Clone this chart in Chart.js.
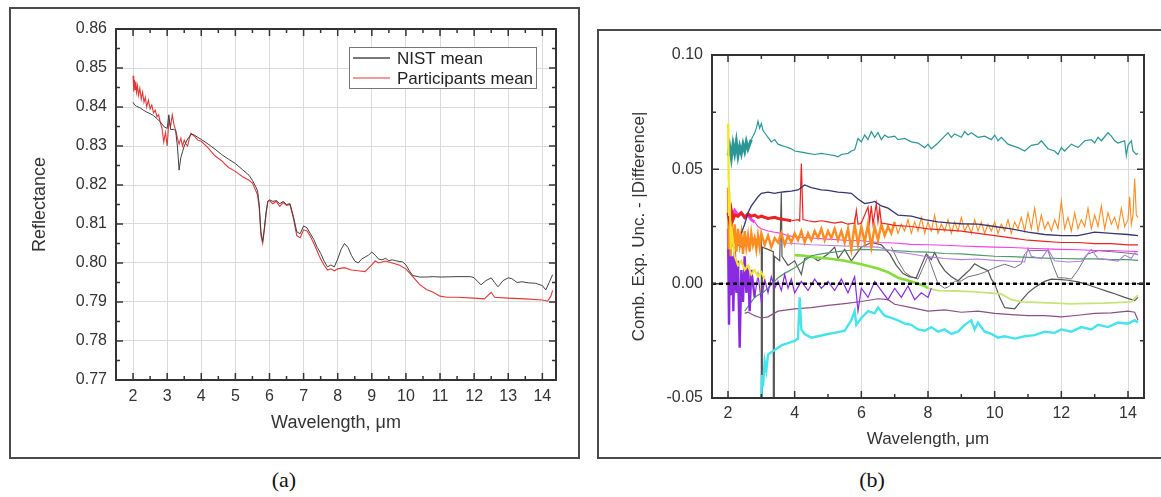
<!DOCTYPE html>
<html>
<head>
<meta charset="utf-8">
<script src="https://cdn.jsdelivr.net/npm/chart.js@4.4.1/dist/chart.umd.min.js"></script>
<style>
body { margin: 0; background: #fff; width: 1161px; height: 497px; overflow: hidden; position: relative; }
.frame { position: absolute; box-sizing: border-box; border: 2px solid #4a4a4a; }
#frameA { left: 9px; top: 7px; width: 571px; height: 452px; }
#frameB { left: 597px; top: 29px; width: 600px; height: 430px; }
canvas { position: absolute; }
#chartA { left: 0; top: 0; }
#chartB { left: 580px; top: 0; }
.cap { position: absolute; top: 467px; width: 60px; text-align: center; font: 22px "Liberation Serif", serif; color: #111; }
</style>
</head>
<body>
<div class="frame" id="frameA"></div>
<div class="frame" id="frameB"></div>
<canvas id="chartA" width="580" height="460"></canvas>
<canvas id="chartB" width="581" height="460"></canvas>
<div class="cap" style="left:254px">(a)</div>
<div class="cap" style="left:842px">(b)</div>
<script>
// ---- (a) reflectance, [wavelength, value]
const nistMean = [[2.0,0.8412],[2.05,0.8405],[2.1,0.8402],[2.2,0.8398],[2.3,0.8392],[2.4,0.8387],[2.5,0.8383],[2.6,0.8378],[2.7,0.8370],[2.8,0.8362],[2.9,0.8350],[3.0,0.8345],[3.05,0.8380],[3.1,0.8342],[3.2,0.8343],[3.25,0.8338],[3.3,0.8300],[3.35,0.8238],[3.4,0.8270],[3.45,0.8285],[3.5,0.8300],[3.6,0.8318],[3.7,0.8330],[3.8,0.8328],[3.9,0.8322],[4.0,0.8317],[4.2,0.8305],[4.4,0.8292],[4.6,0.8278],[4.8,0.8266],[5.0,0.8255],[5.2,0.8240],[5.4,0.8225],[5.5,0.8212],[5.6,0.8195],[5.65,0.8185],[5.7,0.8150],[5.75,0.8080],[5.8,0.8055],[5.85,0.8090],[5.9,0.8130],[5.95,0.8158],[6.0,0.8162],[6.1,0.8158],[6.2,0.8160],[6.3,0.8152],[6.4,0.8158],[6.5,0.8150],[6.6,0.8152],[6.7,0.8120],[6.8,0.8080],[6.9,0.8075],[7.0,0.8095],[7.1,0.8090],[7.2,0.8075],[7.3,0.8060],[7.4,0.8040],[7.5,0.8025],[7.6,0.8005],[7.7,0.7990],[7.8,0.7995],[7.9,0.7990],[8.0,0.8010],[8.1,0.8035],[8.2,0.8050],[8.3,0.8040],[8.4,0.8020],[8.5,0.8005],[8.6,0.8000],[8.7,0.8010],[8.8,0.8015],[8.9,0.8020],[9.0,0.8028],[9.1,0.8020],[9.2,0.8010],[9.3,0.8008],[9.4,0.8012],[9.5,0.8006],[9.6,0.8008],[9.7,0.8006],[9.8,0.8004],[9.9,0.8003],[10.0,0.7995],[10.1,0.7980],[10.2,0.7968],[10.4,0.7964],[10.6,0.7964],[10.8,0.7965],[11.0,0.7964],[11.5,0.7965],[11.9,0.7965],[12.0,0.7962],[12.2,0.7944],[12.35,0.7955],[12.5,0.7962],[12.6,0.7950],[12.7,0.7939],[12.85,0.7955],[13.0,0.7962],[13.1,0.7960],[13.26,0.7950],[13.4,0.7952],[13.6,0.7949],[13.8,0.7948],[14.0,0.7942],[14.1,0.7931],[14.2,0.7950],[14.3,0.7970]];
const partMean = [[2.0,0.8480],[2.02,0.8440],[2.04,0.8470],[2.06,0.8445],[2.08,0.8465],[2.1,0.8438],[2.13,0.8455],[2.16,0.8430],[2.2,0.8448],[2.24,0.8420],[2.28,0.8438],[2.32,0.8412],[2.36,0.8425],[2.4,0.8400],[2.45,0.8418],[2.5,0.8395],[2.55,0.8405],[2.6,0.8385],[2.65,0.8392],[2.7,0.8375],[2.75,0.8380],[2.8,0.8360],[2.85,0.8345],[2.9,0.8310],[2.95,0.8335],[3.0,0.8300],[3.05,0.8365],[3.1,0.8350],[3.15,0.8380],[3.2,0.8355],[3.25,0.8340],[3.3,0.8320],[3.35,0.8305],[3.4,0.8320],[3.45,0.8300],[3.5,0.8315],[3.55,0.8305],[3.6,0.8300],[3.65,0.8320],[3.7,0.8333],[3.8,0.8325],[3.9,0.8315],[4.0,0.8312],[4.2,0.8295],[4.4,0.8275],[4.6,0.8262],[4.8,0.8245],[5.0,0.8235],[5.2,0.8222],[5.4,0.8212],[5.5,0.8205],[5.6,0.8185],[5.65,0.8175],[5.7,0.8140],[5.75,0.8070],[5.8,0.8050],[5.85,0.8085],[5.9,0.8125],[5.95,0.8158],[6.0,0.8160],[6.1,0.8152],[6.2,0.8158],[6.3,0.8145],[6.4,0.8155],[6.5,0.8148],[6.6,0.8150],[6.7,0.8115],[6.8,0.8070],[6.9,0.8065],[7.0,0.8085],[7.1,0.8082],[7.2,0.8068],[7.3,0.8050],[7.4,0.8030],[7.5,0.8010],[7.6,0.7995],[7.7,0.7982],[7.8,0.7985],[7.9,0.7980],[8.0,0.7985],[8.2,0.7988],[8.4,0.7982],[8.6,0.7980],[8.8,0.7978],[9.0,0.7995],[9.1,0.8005],[9.2,0.8000],[9.4,0.8005],[9.6,0.8000],[9.8,0.7995],[10.0,0.7985],[10.2,0.7965],[10.4,0.7945],[10.6,0.7932],[10.8,0.7925],[11.0,0.7915],[11.2,0.7912],[11.5,0.7912],[12.0,0.7910],[12.3,0.7908],[12.5,0.7925],[12.6,0.7912],[13.0,0.7910],[13.5,0.7908],[14.0,0.7905],[14.15,0.7902],[14.25,0.7915],[14.3,0.7930]];
const aXTicks = [2,3,4,5,6,7,8,9,10,11,12,13,14];
const aXMinor = [2.5,3.5,4.5,5.5,6.5,7.5,8.5,9.5,10.5,11.5,12.5,13.5];
const aYTicks = [0.77,0.78,0.79,0.80,0.81,0.82,0.83,0.84,0.85,0.86];
const aYMinor = [0.775,0.785,0.795,0.805,0.815,0.825,0.835,0.845,0.855];

// ---- (b) comb. exp. unc. - |difference|
const teal = [[2.0,.056],[2.05,.060],[2.1,.055],[2.15,.061],[2.2,.057],[2.25,.062],[2.3,.056],[2.35,.060],[2.4,.057],[2.45,.061],[2.5,.058],[2.55,.062],[2.6,.059],[2.7,.063],[2.8,.066],[2.85,.068],[2.9,.071],[2.95,.068],[3.0,.070],[3.05,.067],[3.1,.066],[3.2,.064],[3.3,.062],[3.4,.063],[3.5,.061],[3.6,.0605],[3.7,.060],[3.8,.0595],[3.9,.059],[4.0,.058],[4.2,.0575],[4.4,.057],[4.6,.0565],[4.8,.057],[5.0,.0565],[5.2,.056],[5.3,.0555],[5.4,.0565],[5.6,.057],[5.7,.058],[5.8,.0585],[5.9,.0635],[6.0,.062],[6.1,.065],[6.2,.063],[6.3,.0665],[6.4,.064],[6.5,.066],[6.6,.063],[6.7,.065],[6.8,.064],[7.0,.0645],[7.1,.063],[7.3,.0635],[7.5,.062],[7.7,.0615],[7.9,.0595],[8.0,.061],[8.1,.059],[8.3,.0615],[8.5,.0645],[8.6,.066],[8.7,.064],[8.8,.0655],[9.0,.064],[9.1,.0665],[9.2,.065],[9.3,.066],[9.5,.064],[9.7,.0645],[9.9,.063],[10.0,.065],[10.1,.0625],[10.2,.064],[10.4,.061],[10.5,.0605],[10.7,.0595],[10.9,.058],[11.1,.0605],[11.3,.061],[11.4,.0625],[11.6,.059],[11.8,.058],[11.9,.0565],[12.0,.0595],[12.1,.058],[12.3,.061],[12.5,.0595],[12.7,.0625],[12.9,.063],[13.0,.0615],[13.1,.064],[13.2,.0625],[13.4,.066],[13.5,.0645],[13.6,.0625],[13.7,.0615],[13.8,.062],[13.9,.0625],[13.95,.056],[14.0,.0605],[14.1,.0625],[14.15,.058],[14.25,.0565],[14.3,.057]];
const navy = [[2.4,.022],[2.5,.026],[2.6,.031],[2.7,.034],[2.8,.036],[2.9,.038],[3.0,.0395],[3.2,.040],[3.4,.0395],[3.5,.0398],[3.6,.040],[3.7,.0402],[3.9,.0405],[4.1,.041],[4.3,.0432],[4.5,.042],[4.8,.041],[5.0,.0408],[5.3,.040],[5.5,.0398],[5.7,.0395],[5.9,.037],[6.1,.035],[6.3,.0355],[6.4,.036],[6.6,.034],[6.8,.033],[7.0,.031],[7.1,.030],[7.5,.0295],[7.9,.028],[8.3,.027],[8.7,.0265],[9.0,.0262],[9.5,.026],[10.0,.025],[10.5,.024],[11.0,.0225],[11.5,.0215],[12.0,.021],[12.5,.021],[13.0,.0225],[13.5,.022],[14.0,.0215],[14.3,.021]];
const red = [[2.0,.031],[2.05,.027],[2.1,.032],[2.15,.028],[2.2,.030],[2.3,.0295],[2.4,.031],[2.5,.029],[2.6,.0305],[2.7,.0295],[2.8,.030],[2.9,.029],[3.0,.0295],[3.2,.0285],[3.4,.029],[3.5,.0285],[3.7,.028],[3.9,.0275],[4.1,.028],[4.15,.0275],[4.2,.0525],[4.25,.028],[4.4,.0275],[4.6,.027],[4.8,.0275],[5.0,.027],[5.2,.0265],[5.4,.027],[5.6,.026],[5.8,.0265],[5.85,.032],[5.9,.026],[6.0,.0265],[6.2,.0335],[6.25,.027],[6.3,.034],[6.35,.026],[6.45,.035],[6.5,.027],[6.55,.033],[6.6,.0265],[6.8,.026],[7.0,.0255],[7.5,.025],[8.0,.024],[8.5,.0235],[9.0,.023],[9.5,.022],[10.0,.021],[10.5,.020],[11.0,.019],[11.5,.0185],[12.0,.018],[12.5,.018],[13.0,.0175],[13.5,.0175],[14.0,.017],[14.3,.017]];
const orange = [[2.0,.042],[2.02,.015],[2.05,.035],[2.08,.012],[2.1,.028],[2.15,.016],[2.2,.026],[2.25,.014],[2.3,.024],[2.35,.017],[2.4,.022],[2.45,.013],[2.5,.023],[2.55,.016],[2.6,.021],[2.65,.014],[2.7,.022],[2.75,.017],[2.8,.020],[2.85,.015],[2.9,.021],[2.95,.016],[3.0,.022],[3.1,.017],[3.2,.021],[3.3,.016],[3.4,.020],[3.5,.018],[3.6,.022],[3.7,.017],[3.8,.021],[3.9,.018],[4.0,.022],[4.1,.019],[4.2,.023],[4.3,.018],[4.4,.022],[4.5,.019],[4.6,.023],[4.7,.020],[4.8,.024],[4.9,.019],[5.0,.023],[5.1,.020],[5.2,.024],[5.3,.019],[5.4,.023],[5.5,.018],[5.6,.024],[5.7,.015],[5.8,.026],[5.9,.017],[6.0,.025],[6.1,.018],[6.2,.026],[6.3,.016],[6.4,.025],[6.5,.019],[6.6,.026],[6.7,.021],[6.8,.025],[6.9,.022],[7.0,.027],[7.1,.022],[7.2,.026],[7.3,.023],[7.4,.028],[7.5,.022],[7.6,.027],[7.7,.023],[7.8,.029],[7.9,.022],[8.0,.027],[8.1,.023],[8.2,.030],[8.3,.022],[8.4,.026],[8.5,.023],[8.6,.028],[8.7,.022],[8.8,.027],[8.9,.023],[9.0,.029],[9.1,.023],[9.2,.026],[9.3,.022],[9.4,.028],[9.5,.023],[9.6,.027],[9.7,.022],[9.8,.026],[9.9,.023],[10.0,.027],[10.1,.022],[10.2,.026],[10.3,.023],[10.4,.028],[10.5,.022],[10.6,.027],[10.7,.024],[10.8,.029],[10.9,.023],[11.0,.031],[11.1,.024],[11.2,.033],[11.3,.023],[11.4,.030],[11.5,.024],[11.6,.027],[11.7,.023],[11.8,.028],[11.9,.024],[12.0,.036],[12.1,.024],[12.2,.029],[12.3,.023],[12.4,.031],[12.5,.024],[12.6,.028],[12.7,.025],[12.8,.033],[12.9,.024],[13.0,.030],[13.1,.025],[13.2,.034],[13.3,.024],[13.4,.031],[13.5,.026],[13.6,.029],[13.7,.024],[13.8,.033],[13.9,.025],[14.0,.028],[14.05,.038],[14.1,.026],[14.15,.030],[14.2,.046],[14.25,.030],[14.3,.029]];
const magenta = [[2.0,.031],[2.1,.029],[2.2,.032],[2.3,.030],[2.4,.031],[2.5,.029],[2.6,.030],[2.7,.028],[2.8,.027],[2.9,.025],[3.0,.024],[3.2,.023],[3.4,.0225],[3.6,.022],[3.8,.021],[4.0,.0205],[4.5,.020],[5.0,.0195],[5.5,.019],[6.0,.0188],[6.5,.018],[7.0,.0178],[7.5,.0172],[8.0,.017],[8.5,.0168],[9.0,.0165],[9.5,.0162],[10.0,.016],[10.5,.0158],[11.0,.0155],[11.5,.0152],[12.0,.015],[12.5,.0148],[13.0,.0145],[13.5,.0145],[14.0,.0142],[14.3,.014]];
const violetA = [[2.0,.024],[2.03,-.018],[2.06,.018],[2.1,-.005],[2.13,.012],[2.16,-.012],[2.2,.016],[2.25,-.004],[2.3,.010],[2.35,-.028],[2.4,.006],[2.45,-.008],[2.5,.012],[2.55,-.004],[2.6,.008],[2.65,-.012],[2.7,.006],[2.8,-.006],[2.9,.004],[3.0,-.008],[3.1,.002],[3.2,-.004],[3.3,.003],[3.4,-.002],[3.5,.001],[3.6,-.003],[3.7,.004],[3.8,-.002],[3.9,.002],[4.0,-.004],[4.2,.001],[4.4,-.003],[4.6,.002],[4.8,-.002],[5.0,.001],[5.2,-.003],[5.4,.002],[5.6,-.004],[5.8,.003],[5.9,-.012],[6.0,-.002],[6.2,-.006],[6.4,.001],[6.6,-.003],[6.8,-.007],[7.0,-.002],[7.2,-.006],[7.4,-.001],[7.6,-.007],[7.8,-.004],[8.0,-.006],[8.1,-.002]];
const violetB = [[3.5,.018],[4.5,.017],[5.5,.0165],[6.5,.016],[7.0,.014],[7.5,.013],[7.9,.012],[8.2,.0115],[8.5,.011],[9.0,.0105],[9.5,.0108],[10.0,.0102],[10.5,.0098],[10.9,.0095],[11.0,.0155],[11.1,.012],[11.4,.011],[11.6,.015],[11.8,.010],[12.2,.0095],[12.6,.0098],[12.9,.015],[13.1,.011],[13.4,.0105],[13.7,.0098],[13.9,.0125],[14.1,.011],[14.2,.0135],[14.3,.0125]];
const green = [[2.5,-.012],[2.6,-.010],[2.7,-.008],[2.8,-.006],[2.9,-.005],[3.0,-.0044],[3.2,-.002],[3.4,.001],[3.5,.0026],[3.7,.0045],[4.0,.007],[4.3,.010],[4.5,.0122],[4.8,.013],[5.0,.0135],[5.5,.0144],[6.0,.015],[6.5,.0148],[7.0,.0145],[7.5,.014],[8.0,.0138],[8.5,.0132],[9.0,.013],[9.5,.0125],[10.0,.012],[10.5,.0118],[11.0,.0115],[11.5,.0112],[12.0,.011],[12.5,.0108],[13.0,.0108],[13.5,.0105],[14.0,.0105],[14.3,.0102]];
const lime = [[4.0,.0125],[4.3,.0122],[4.6,.0115],[5.0,.011],[5.5,.010],[6.0,.0085],[6.5,.0066],[6.8,.005],[7.1,.0026],[7.5,.001],[7.9,-.001],[8.0,-.002]];
const yellowGreen = [[8.0,-.002],[8.3,-.003],[8.8,-.0032],[9.3,-.0035],[9.8,-.004],[10.2,-.0045],[10.5,-.007],[10.8,-.008],[11.2,-.0082],[11.8,-.0085],[12.3,-.0088],[12.8,-.0086],[13.3,-.0085],[13.8,-.0082],[14.1,-.008],[14.3,-.005]];
const mauve = [[2.5,-.013],[2.6,-.0125],[2.8,-.014],[3.0,-.015],[3.2,-.0145],[3.5,-.012],[4.0,-.011],[4.5,-.0105],[5.0,-.0095],[5.5,-.0087],[6.0,-.0078],[6.5,-.0066],[6.8,-.007],[7.0,-.009],[7.5,-.0105],[8.0,-.012],[8.5,-.0115],[9.0,-.0125],[9.5,-.012],[10.0,-.013],[10.5,-.0135],[11.0,-.014],[11.5,-.014],[12.0,-.0145],[12.5,-.0138],[13.0,-.013],[13.5,-.0128],[14.0,-.012],[14.2,-.0125],[14.3,-.016]];
const cyan = [[3.0,-.050],[3.02,-.040],[3.05,-.045],[3.1,-.034],[3.15,-.038],[3.2,-.031],[3.3,-.030],[3.4,-.029],[3.5,-.028],[3.6,-.027],[3.8,-.026],[4.0,-.025],[4.1,-.024],[4.15,-.006],[4.2,-.020],[4.3,-.022],[4.5,-.0236],[4.7,-.023],[5.0,-.022],[5.2,-.0215],[5.5,-.0206],[5.7,-.016],[5.8,-.012],[5.85,-.018],[6.0,-.015],[6.2,-.012],[6.4,-.013],[6.5,-.0105],[6.7,-.014],[6.9,-.015],[7.1,-.016],[7.3,-.0175],[7.5,-.018],[7.7,-.020],[7.9,-.0206],[8.1,-.019],[8.3,-.021],[8.5,-.020],[8.7,-.022],[8.9,-.021],[9.1,-.018],[9.3,-.016],[9.4,-.020],[9.5,-.017],[9.7,-.021],[9.9,-.022],[10.1,-.0236],[10.3,-.023],[10.6,-.024],[10.9,-.023],[11.2,-.0225],[11.5,-.021],[11.8,-.0215],[12.0,-.020],[12.3,-.021],[12.6,-.019],[12.9,-.020],[13.1,-.018],[13.4,-.019],[13.7,-.017],[14.0,-.0175],[14.2,-.016],[14.3,-.017]];
const gray1 = [[2.0,.020],[2.2,.018],[2.4,.016],[2.6,.017],[2.8,.019],[3.0,.020],[3.0,-.050],[3.03,-.050],[3.03,.016],[3.2,.015],[3.36,.014],[3.36,-.050],[3.39,-.050],[3.39,.012],[3.55,.010],[3.6,.040],[3.62,.012],[3.8,.008],[4.0,.010],[4.2,.004],[4.3,.011],[4.5,.012],[4.7,.010],[5.0,.013],[5.2,.016],[5.3,.011],[5.5,.015],[5.7,.010],[6.0,.016],[6.3,.018],[6.6,.017],[6.85,.013],[7.05,.008],[7.25,.0044],[7.45,.003],[7.65,.0026],[7.8,.008],[7.95,.013],[8.1,.0105],[8.2,.0136],[8.35,.009],[8.5,.0057],[8.7,.003],[8.9,.0013],[9.1,.004],[9.25,.006],[9.4,.0087],[9.6,.007],[9.8,.0057],[9.9,.002],[10.0,.0],[10.15,-.006],[10.3,-.0105],[10.6,-.011],[10.8,-.0074],[11.0,-.004],[11.2,-.0017],[11.5,.001],[11.7,.002],[12.0,.0018],[12.2,.0015],[12.5,.0008],[12.7,.0],[12.9,-.001],[13.1,-.002],[13.4,-.0035],[13.6,-.0044],[13.9,-.006],[14.2,-.0074],[14.3,-.006]];
const gray2 = [[6.9,.016],[7.1,.010],[7.3,.005],[7.5,.003],[7.7,.002],[7.85,.007],[8.0,.012],[8.15,.006],[8.3,.0],[8.5,-.002],[8.6,-.0015],[8.8,.001],[9.0,.0012],[9.2,.003],[9.5,.004],[9.7,.005],[10.0,.007],[10.3,.0085],[10.6,.007],[10.8,.0087],[10.9,.013],[11.0,.0144],[11.3,.0145],[11.6,.0144],[11.75,.008],[11.9,.0026],[12.1,.0025],[12.3,.002],[12.5,.006],[12.7,.011],[12.8,.013],[13.1,.0144],[13.5,.014],[13.9,.0135],[14.2,.013],[14.3,.0128]];
const yellow = [[2.0,.070],[2.01,.045],[2.02,.060],[2.03,.030],[2.05,.040],[2.08,.015],[2.1,.025],[2.2,.012],[2.3,.008],[2.4,.010],[2.5,.006],[2.6,.008],[2.7,.004],[2.8,.006],[2.9,.003],[3.0,.005],[3.1,.002]];
const bXTicks = [2,4,6,8,10,12,14];
const bXMinor = [3,5,7,9,11,13];
const bYTicks = [-0.05,0,0.05,0.10];
const bYMinor = [-0.025,0.025,0.075];

Chart.defaults.font.family = '"Liberation Sans", Arial, sans-serif';
Chart.defaults.color = '#333';
Chart.defaults.animation = false;

// inward ticks on all four sides + dark box, optional dotted zero line
function boxPlugin(xMajor, xMinor, yMajor, yMinor, zero) {
    return {
        id: 'box',
        afterDatasetsDraw(chart) {
            const {ctx, chartArea: a, scales: {x, y}} = chart;
            ctx.save();
            if (zero) {
                const yz = y.getPixelForValue(0);
                ctx.strokeStyle = '#000';
                ctx.lineWidth = 2.5;
                ctx.setLineDash([4, 3]);
                ctx.beginPath();
                ctx.moveTo(a.left, yz);
                ctx.lineTo(a.right + 8, yz);
                ctx.stroke();
                ctx.setLineDash([]);
            }
            ctx.strokeStyle = '#333';
            ctx.lineWidth = 1.5;
            ctx.beginPath();
            const xt = (vals, len) => vals.forEach(v => {
                const px = x.getPixelForValue(v);
                ctx.moveTo(px, a.bottom); ctx.lineTo(px, a.bottom - len);
                ctx.moveTo(px, a.top); ctx.lineTo(px, a.top + len);
            });
            const yt = (vals, len) => vals.forEach(v => {
                const py = y.getPixelForValue(v);
                ctx.moveTo(a.left, py); ctx.lineTo(a.left + len, py);
                ctx.moveTo(a.right, py); ctx.lineTo(a.right - len, py);
            });
            xt(xMajor, 7); xt(xMinor, 4);
            yt(yMajor, 7); yt(yMinor, 4);
            ctx.stroke();
            ctx.lineWidth = 2;
            ctx.strokeRect(a.left, a.top, a.right - a.left, a.bottom - a.top);
            ctx.restore();
        }
    };
}

const legendBox = {
    id: 'legendBox',
    afterDatasetsDraw(chart) {
        const {ctx, chartArea: a} = chart;
        const w = 187, h = 41;
        const x0 = a.right - 20 - w, y0 = a.top + 18;
        ctx.save();
        ctx.fillStyle = '#fff';
        ctx.fillRect(x0, y0, w, h);
        ctx.strokeStyle = '#777';
        ctx.lineWidth = 1;
        ctx.strokeRect(x0 + 0.5, y0 + 0.5, w, h);
        chart.data.datasets.forEach((ds, i) => {
            const yy = y0 + 11 + i * 20;
            ctx.strokeStyle = i ? ds.borderColor : '#777';
            ctx.lineWidth = i ? 1.2 : 2;
            ctx.beginPath();
            ctx.moveTo(x0 + 4, yy);
            ctx.lineTo(x0 + 41, yy);
            ctx.stroke();
            ctx.fillStyle = '#222';
            ctx.font = '17px "Liberation Sans", Arial, sans-serif';
            ctx.textBaseline = 'middle';
            ctx.fillText(ds.label, x0 + 48, yy + 1);
        });
        ctx.restore();
    }
};

const gridOpts = {color: '#dadada', lineWidth: 1, drawTicks: false};

new Chart(document.getElementById('chartA'), {
    type: 'line',
    data: {
        datasets: [
            {label: 'NIST mean', data: nistMean, borderColor: '#404040', borderWidth: 1},
            {label: 'Participants mean', data: partMean, borderColor: '#e03838', borderWidth: 1.1}
        ]
    },
    options: {
        responsive: false,
        elements: {point: {radius: 0}, line: {tension: 0}},
        layout: {padding: {top: 29, right: 24, left: 0, bottom: 0}},
        plugins: {legend: {display: false}, tooltip: {enabled: false}},
        scales: {
            x: {
                type: 'linear', min: 1.5, max: 14.4,
                afterBuildTicks: s => { s.ticks = aXTicks.map(v => ({value: v})); },
                afterFit: s => { s.height = 80; },
                ticks: {padding: 7, font: {size: 16}, callback: v => String(v)},
                grid: gridOpts, border: {display: false},
                title: {display: true, text: 'Wavelength, μm', font: {size: 18}, padding: {top: 0, bottom: 26}}
            },
            y: {
                type: 'linear', min: 0.77, max: 0.86,
                afterBuildTicks: s => { s.ticks = aYTicks.map(v => ({value: v})); },
                afterFit: s => { s.width = 116; },
                ticks: {padding: 9, font: {size: 16}, callback: v => v.toFixed(2)},
                grid: gridOpts, border: {display: false},
                title: {display: true, text: 'Reflectance', font: {size: 18}, padding: {top: 29, bottom: 0}}
            }
        }
    },
    plugins: [boxPlugin(aXTicks, aXMinor, aYTicks, aYMinor, false), legendBox]
});

const thickBefore = (limit, wide, thin) => ({borderWidth: c => c.p0.parsed.x < limit ? wide : thin});

new Chart(document.getElementById('chartB'), {
    type: 'line',
    data: {
        datasets: [
            {data: yellow, borderColor: '#f3e62a', borderWidth: 2},
            {data: teal, borderColor: '#2b9696', borderWidth: 1.2, segment: thickBefore(2.65, 3, 1.2)},
            {data: navy, borderColor: '#353572', borderWidth: 1.3},
            {data: red, borderColor: '#ec2222', borderWidth: 1.2, segment: thickBefore(3.8, 3, 1.2)},
            {data: orange, borderColor: '#ff8c1e', borderWidth: 1.1, segment: thickBefore(7, 2.4, 1.1)},
            {data: cyan, borderColor: '#45e4ec', borderWidth: 2.4},
            {data: magenta, borderColor: '#f040ee', borderWidth: 1.1, segment: thickBefore(2.8, 3, 1.1)},
            {data: violetA, borderColor: '#8a2be2', borderWidth: 1.2, segment: thickBefore(2.75, 2.4, 1.2)},
            {data: violetB, borderColor: '#b47ce0', borderWidth: 1.1},
            {data: green, borderColor: '#4c9a6a', borderWidth: 1.2},
            {data: lime, borderColor: '#86dc38', borderWidth: 2.6},
            {data: yellowGreen, borderColor: '#c3e67a', borderWidth: 1.8},
            {data: mauve, borderColor: '#8b4f86', borderWidth: 1.2},
            {data: gray1, borderColor: '#555555', borderWidth: 1.2},
            {data: gray2, borderColor: '#707080', borderWidth: 1}
        ]
    },
    options: {
        responsive: false,
        elements: {point: {radius: 0}, line: {tension: 0}},
        layout: {padding: {top: 55, right: 17, left: 0, bottom: 0}},
        plugins: {legend: {display: false}, tooltip: {enabled: false}},
        scales: {
            x: {
                type: 'linear', min: 1.52, max: 14.48,
                afterBuildTicks: s => { s.ticks = bXTicks.map(v => ({value: v})); },
                afterFit: s => { s.height = 62; },
                ticks: {padding: 6, font: {size: 16}, callback: v => String(v)},
                grid: gridOpts, border: {display: false},
                title: {display: true, text: 'Wavelength, μm', font: {size: 17}, padding: {top: 0, bottom: 10}}
            },
            y: {
                type: 'linear', min: -0.05, max: 0.10,
                afterBuildTicks: s => { s.ticks = bYTicks.map(v => ({value: v})); },
                afterFit: s => { s.width = 132; },
                ticks: {padding: 9, font: {size: 16}, callback: v => v.toFixed(2)},
                grid: gridOpts, border: {display: false},
                title: {display: true, text: 'Comb. Exp. Unc. - |Difference|', font: {size: 17}, padding: {top: 49, bottom: 0}}
            }
        }
    },
    plugins: [boxPlugin(bXTicks, bXMinor, bYTicks, bYMinor, true)]
});
</script>
</body>
</html>
